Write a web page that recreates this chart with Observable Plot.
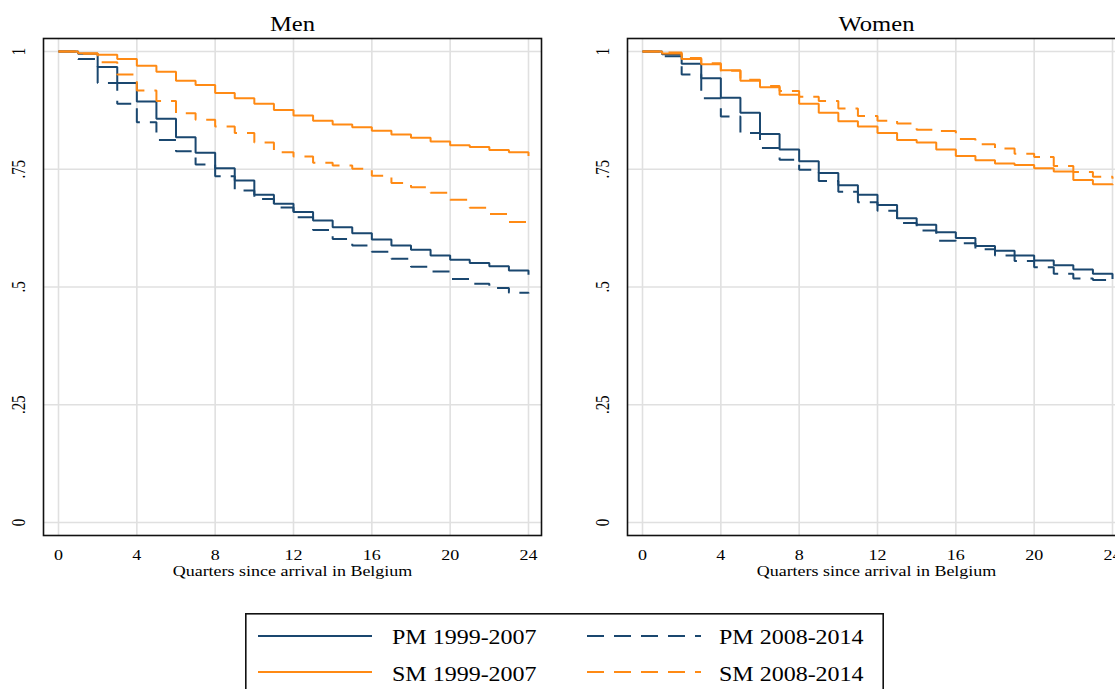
<!DOCTYPE html>
<html>
<head>
<meta charset="utf-8">
<script src="https://cdn.jsdelivr.net/npm/d3@7"></script>
<script src="https://cdn.jsdelivr.net/npm/@observablehq/plot@0.6"></script>
<style>
  html, body { margin: 0; padding: 0; background: #fff; width: 1115px; height: 689px; overflow: hidden; }
  #wrap { position: relative; width: 1115px; height: 689px; overflow: hidden; background: #fff; }
  .panel { position: absolute; top: 0; width: 560px; height: 600px; }
  .panel svg { max-width: none !important; width: 560px; height: 600px; }
  #legend { position: absolute; left: 245px; top: 613px; }
</style>
</head>
<body>
<div id="wrap">
  <div class="panel" id="men" style="left:0px"></div>
  <div class="panel" id="women" style="left:584px"></div>
  <div id="legend"></div>
</div>
<script>
// ---- data ----
const quarters = [0,1,2,3,4,5,6,7,8,9,10,11,12,13,14,15,16,17,18,19,20,21,22,23,24];
const xTicks = [0,4,8,12,16,20,24];
const yTicks = [0,0.25,0.5,0.75,1];
const yTickLabels = ["0",".25",".5",".75","1"];
const seriesKeys = ["PM 1999-2007","PM 2008-2014","SM 1999-2007","SM 2008-2014"];
const seriesColors = ["#1a476f","#1a476f","#ff8a14","#ff8a14"];
const seriesDash = [null,"17,10",null,"17,10"];
const panelTitles = ["Men","Women"];
const xLabel = "Quarters since arrival in Belgium";

const menPM1 = [1,.995,.967,.933,.894,.857,.818,.785,.752,.726,.696,.677,.659,.641,.627,.614,.601,.588,.579,.567,.558,.551,.544,.535,.526];
const menPM2 = [1,.984,.933,.889,.850,.812,.788,.760,.735,.705,.687,.669,.648,.621,.602,.588,.575,.560,.543,.533,.517,.507,.498,.488,.486];
const menSM1 = [1,.9965,.993,.984,.970,.957,.938,.929,.912,.901,.889,.876,.864,.853,.845,.839,.832,.824,.817,.809,.801,.797,.791,.786,.778];
const menSM2 = [1,.995,.977,.951,.917,.895,.869,.855,.841,.827,.807,.786,.777,.764,.758,.751,.736,.721,.712,.700,.685,.668,.655,.638,.634];

const womenPM1 = [1,.994,.974,.943,.902,.870,.825,.792,.767,.742,.716,.696,.674,.646,.632,.616,.604,.587,.577,.567,.556,.546,.537,.528,.517];
const womenPM2 = [1,.990,.951,.901,.862,.827,.795,.770,.749,.725,.702,.680,.662,.636,.620,.598,.593,.580,.567,.555,.542,.528,.518,.515,.509];
const womenSM1 = [1,.996,.984,.973,.960,.938,.924,.908,.889,.870,.852,.841,.827,.812,.807,.792,.778,.769,.762,.759,.752,.745,.727,.718,.716];
const womenSM2 = [1,.998,.986,.975,.959,.940,.927,.916,.904,.895,.879,.863,.853,.847,.834,.831,.814,.803,.794,.783,.776,.757,.744,.734,.730];

const FONT = "'Liberation Serif', 'Times New Roman', serif";
const STRETCH = 1.2;

function stretchTexts(svg) {
  svg.querySelectorAll("text").forEach(t => {
    const tr = t.getAttribute("transform");
    if (!tr) return;
    if (tr.includes("rotate")) t.setAttribute("transform", tr + ` scale(1,${STRETCH})`);
    else t.setAttribute("transform", tr + ` scale(${STRETCH},1)`);
  });
}

function panel(title, seriesValues) {
  const lineMarks = seriesValues.map((vals, k) => {
    const rows = quarters.map((q, i) => ({q, v: vals[i]}));
    return Plot.line(rows, {
      x: "q", y: "v", curve: "step-after",
      stroke: seriesColors[k], strokeWidth: 2,
      strokeDasharray: seriesDash[k] || undefined,
      strokeLinecap: "butt", strokeLinejoin: "miter"
    });
  });
  const svg = Plot.plot({
    width: 560, height: 600,
    marginLeft: 43, marginRight: 19, marginTop: 38, marginBottom: 65,
    x: {domain: [-0.766, 24.664], label: null},
    y: {domain: [-0.0276, 1.0276], axis: null},
    style: {fontFamily: FONT, background: "white", color: "black", overflow: "visible", maxWidth: "none"},
    marks: [
      Plot.gridX(xTicks, {stroke: "#e0e0e0", strokeOpacity: 1, strokeWidth: 1.6}),
      Plot.gridY(yTicks, {stroke: "#e0e0e0", strokeOpacity: 1, strokeWidth: 1.6}),
      Plot.axisX(xTicks, {tickSize: 0, tickPadding: 14, fontSize: 15, label: null, fill: "#000"}),
      Plot.text(yTicks, {y: d => d, text: (d, i) => yTickLabels[i], frameAnchor: "left", dx: -24.5,
        rotate: -90, fontSize: 15, textAnchor: "middle", lineAnchor: "middle", fill: "#000"}),
      ...lineMarks,
      Plot.frame({stroke: "#111", strokeWidth: 1.6}),
      Plot.text([title], {frameAnchor: "top", dy: -8, lineAnchor: "bottom", fontSize: 20.5, fill: "#000"}),
      Plot.text([xLabel], {frameAnchor: "bottom", dy: 36, lineAnchor: "middle", fontSize: 15, fill: "#000"})
    ]
  });
  svg.style.maxWidth = "none";
  svg.setAttribute("width", 560);
  svg.setAttribute("height", 600);
  stretchTexts(svg);
  return svg;
}

document.getElementById("men").appendChild(panel(panelTitles[0], [menPM1, menPM2, menSM1, menSM2]));
document.getElementById("women").appendChild(panel(panelTitles[1], [womenPM1, womenPM2, womenSM1, womenSM2]));

// ---- legend ----
const lg = d3.select("#legend").append("svg").attr("width", 640).attr("height", 80)
  .style("font-family", FONT);
lg.append("rect").attr("x", 0.8).attr("y", 0.8).attr("width", 637.4).attr("height", 120)
  .attr("fill", "white").attr("stroke", "#111").attr("stroke-width", 1.6);
const legendPos = [
  {lx: 13, tx: 147, row: 0}, {lx: 342, tx: 474, row: 0},
  {lx: 13, tx: 147, row: 1}, {lx: 342, tx: 474, row: 1}
];
const rowY = [23, 59];
const rowBase = [31, 67.5];
seriesKeys.forEach((key, k) => {
  const p = legendPos[k];
  lg.append("line").attr("x1", p.lx).attr("x2", p.lx + 114)
    .attr("y1", rowY[p.row]).attr("y2", rowY[p.row])
    .attr("stroke", seriesColors[k]).attr("stroke-width", 2)
    .attr("stroke-dasharray", seriesDash[k]);
  lg.append("text").attr("transform", `translate(${p.tx},${rowBase[p.row]}) scale(${STRETCH},1)`)
    .attr("font-size", 20).attr("fill", "#000").text(key);
});
</script>
</body>
</html>
